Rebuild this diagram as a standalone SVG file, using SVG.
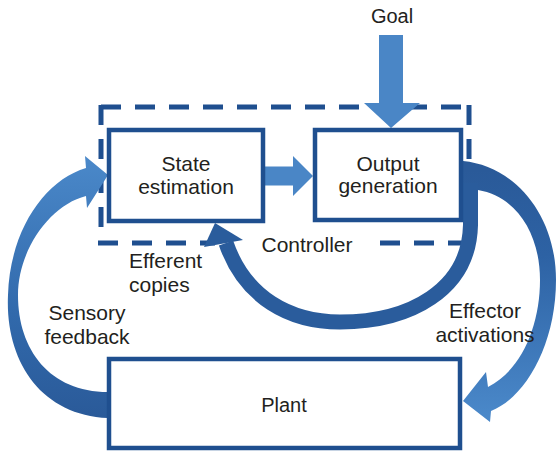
<svg xmlns="http://www.w3.org/2000/svg" width="559" height="453" viewBox="0 0 559 453">
<style>
text{font-family:"Liberation Sans",Arial,Helvetica,sans-serif;font-size:21px;fill:#231f20}
.c{text-anchor:middle}
.box{fill:#fff;stroke:#1f4f8f;stroke-width:4.5}
.dash{fill:none;stroke:#1f4f8f;stroke-width:5;stroke-dasharray:20 14}
.light{fill:#4a86c6}
.dark{fill:none;stroke:#2a5c9c;stroke-width:15}
</style>
<defs>
<linearGradient id="gEff" gradientUnits="userSpaceOnUse" x1="0" y1="170" x2="0" y2="415">
<stop offset="0" stop-color="#2a5a99"/>
<stop offset="0.35" stop-color="#2d62a4"/>
<stop offset="1" stop-color="#4a88c9"/>
</linearGradient>
<linearGradient id="gSen" gradientUnits="userSpaceOnUse" x1="0" y1="418" x2="0" y2="160">
<stop offset="0" stop-color="#2a5a99"/>
<stop offset="0.4" stop-color="#3169ab"/>
<stop offset="1" stop-color="#4a88c9"/>
</linearGradient>
</defs>

<g id="controller">
<line class="dash" x1="101" y1="107" x2="469" y2="107" stroke-dashoffset="0"/>
<line class="dash" x1="101" y1="105" x2="101" y2="243"/>
<line class="dash" x1="469" y1="105" x2="469" y2="243"/>
<line class="dash" x1="98" y1="243" x2="215" y2="243"/>
<line class="dash" x1="380" y1="243" x2="469" y2="243" stroke-dasharray="20 10"/>
<text class="c" x="307" y="252">Controller</text>
</g>

<g id="connectors">
<path class="light" d="M379,35 L403,35 L403,103 L420,103 L391,128 L364,103 L379,103 Z"/>
<path class="light" d="M264,166.5 L293,166.5 L293,156 L313,176 L293,196 L293,185.5 L264,185.5 Z"/>
<path fill="url(#gEff)" d="M463,161 C515,166 556,215 556,280 C556,345 525,398 491,411 L490,422 L463,401 L486,372 L488,387 C522,370 540,325 540,280 C540,232 515,196 478,190 L463,190 Z"/>
<path class="dark" d="M470.5,183 L470.5,225 C469,290 410,322 340,322 C290,322 245,298 226,243"/>
<path fill="#2a5c9c" d="M215,223 L243,240 L204,247 Z"/>
<path fill="url(#gSen)" d="M108,418 C40,415 5,360 8,295 C10,230 45,180 86,168 L85,156 L108,175 L87,208 L86,196 C50,205 18,250 18,295 C18,350 50,392 108,392 Z"/>
</g>

<g id="state-estimation">
<rect class="box" x="109" y="130" width="154" height="91"/>
<text class="c" x="186" y="171">State</text>
<text class="c" x="186" y="194">estimation</text>
</g>

<g id="output-generation">
<rect class="box" x="315" y="130" width="146" height="90"/>
<text class="c" x="388" y="171">Output</text>
<text class="c" x="388" y="193">generation</text>
</g>

<g id="plant">
<rect class="box" x="109" y="359" width="351" height="89"/>
<text class="c" x="284" y="412" style="font-size:20px">Plant</text>
</g>

<g id="labels">
<text class="c" x="392" y="23" style="font-size:20px">Goal</text>
<text x="129" y="268">Efferent</text>
<text x="129" y="292">copies</text>
<text class="c" x="87" y="320">Sensory</text>
<text class="c" x="87" y="344">feedback</text>
<text class="c" x="485" y="318">Effector</text>
<text class="c" x="485" y="342">activations</text>
</g>
</svg>
